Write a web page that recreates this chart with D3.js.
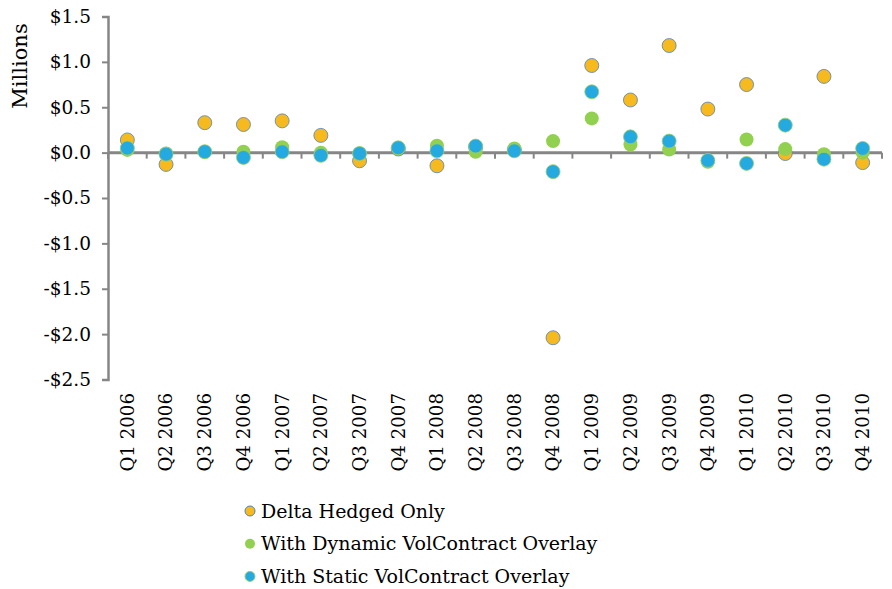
<!DOCTYPE html>
<html><head><meta charset="utf-8">
<script src="https://cdn.jsdelivr.net/npm/d3@7"></script>
<style>body{margin:0;background:#fff}svg{display:block}text{font-family:"DejaVu Serif",serif;fill:#000}</style>
</head><body>
<svg id="c" width="892" height="589"></svg>
<script>
const categories = ["Q1 2006","Q2 2006","Q3 2006","Q4 2006","Q1 2007","Q2 2007","Q3 2007","Q4 2007","Q1 2008","Q2 2008","Q3 2008","Q4 2008","Q1 2009","Q2 2009","Q3 2009","Q4 2009","Q1 2010","Q2 2010","Q3 2010","Q4 2010"];
const deltaHedged = [0.14,-0.13,0.33,0.31,0.35,0.19,-0.09,0.04,-0.145,0.06,0.03,-2.04,0.96,0.58,1.18,0.48,0.75,-0.01,0.84,-0.11];
const dynamicOverlay = [0.03,-0.01,0.01,0.01,0.06,0.0,-0.01,0.05,0.075,0.01,0.045,0.127,0.377,0.09,0.035,-0.1,0.145,0.039,-0.017,0.0];
const staticOverlay = [0.05,-0.017,0.01,-0.053,0.01,-0.03,-0.01,0.053,0.02,0.072,0.02,-0.21,0.67,0.174,0.127,-0.086,-0.119,0.303,-0.072,0.046];
const yTicks = [1.5,1.0,0.5,0.0,-0.5,-1.0,-1.5,-2.0,-2.5];
const seriesNames = ["Delta Hedged Only","With Dynamic VolContract Overlay","With Static VolContract Overlay"];
const seriesColors = ["#F6BA1E","#92D050","#24A9E1"];
const seriesStroke = ["#4F81BD","none","#9ACF6A"];
const seriesData = [deltaHedged, dynamicOverlay, staticOverlay];

const svg = d3.select("#c");
const x = d3.scaleBand().domain(categories).range([108, 882]);
const y = d3.scaleLinear().domain([-2.5, 1.5]).range([379.5, 16.5]);
const axisColor = "#868686";

// y axis
const yAxis = svg.append("g").attr("transform","translate(108,0)")
  .call(d3.axisLeft(y).tickValues(yTicks).tickSize(6).tickPadding(11)
    .tickFormat(v => (v < 0 ? "-$" : "$") + Math.abs(v).toFixed(1)));
yAxis.select(".domain").attr("stroke", axisColor).attr("stroke-width", 2.5);
yAxis.selectAll(".tick line").attr("stroke", axisColor).attr("stroke-width", 2);
yAxis.selectAll(".tick text").attr("font-size", 18.5).attr("font-family","DejaVu Serif").attr("fill","#000");

// x axis at zero
const xg = svg.append("g").attr("transform", `translate(0,${y(0)})`);
xg.append("line").attr("x1", 108).attr("x2", 882).attr("stroke", axisColor).attr("stroke-width", 3);
const bounds = categories.map(c => x(c)).concat([x.range()[1]]);
xg.selectAll("line.tk").data(bounds).enter().append("line").attr("class","tk")
  .attr("x1", d => d).attr("x2", d => d).attr("y1", 0).attr("y2", 6)
  .attr("stroke", axisColor).attr("stroke-width", 2);

// x labels
svg.append("g").selectAll("text").data(categories).enter().append("text")
  .attr("transform", d => `translate(${x(d) + x.bandwidth()/2},393) rotate(-90)`)
  .attr("text-anchor","end").attr("dy","0.35em").attr("font-size",18.2).text(d => d);

// y title
svg.append("text").attr("transform","translate(20,66) rotate(-90)")
  .attr("text-anchor","middle").attr("dy","0.35em").attr("font-size",21).text("Millions");

// points
seriesData.forEach((vals, i) => {
  svg.append("g").selectAll("circle").data(vals).enter().append("circle")
    .attr("cx", (d, j) => x(categories[j]) + x.bandwidth()/2)
    .attr("cy", d => y(d)).attr("r", 7)
    .attr("fill", seriesColors[i]).attr("stroke", seriesStroke[i]).attr("stroke-width", 0.8);
});

// legend
const lg = svg.append("g");
seriesNames.forEach((n, i) => {
  const ly = 511 + i * 32.7;
  lg.append("circle").attr("cx", 250).attr("cy", ly).attr("r", 5)
    .attr("fill", seriesColors[i]).attr("stroke", seriesStroke[i]).attr("stroke-width", 1);
  lg.append("text").attr("x", 261).attr("y", ly).attr("dy","0.35em").attr("font-size",19).text(n);
});
</script>
</body></html>
